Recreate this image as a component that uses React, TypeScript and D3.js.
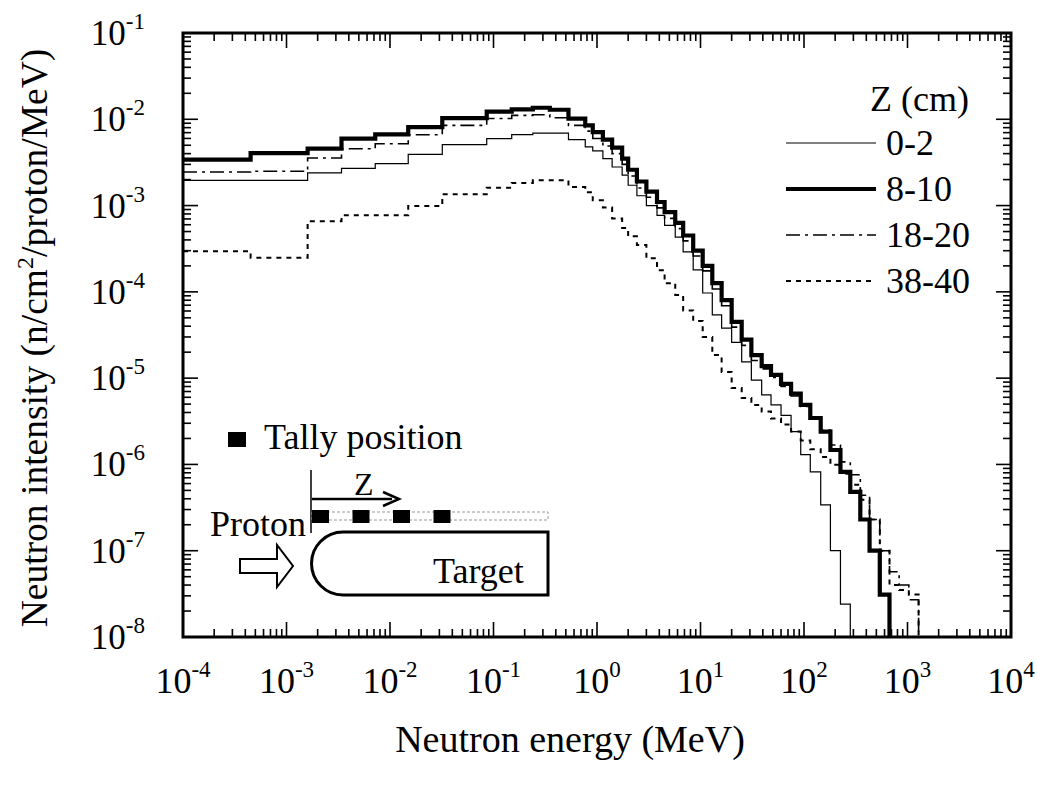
import React from "react";
import * as d3 from "d3";

// Energy bin edges (MeV) shared by all tallies
const binEdges = [
  1e-4, 4.5e-4, 1.6e-3, 3.4e-3, 7.2e-3, 1.5e-2, 3.2e-2, 8.6e-2, 0.15, 0.24, 0.35, 0.53,
  0.77, 0.91, 1.14, 1.4, 1.75, 2.0, 2.43, 3.0, 3.8, 4.5, 5.7, 6.8, 8.5, 10.5, 13, 16, 20,
  25, 31, 39, 48, 60, 75, 93, 115, 145, 180, 225, 280, 350, 430, 540, 670, 830, 1030, 1280,
];

// Neutron intensity per bin (n/cm2/proton/MeV) for each tally depth
const z0to2 = [
  1.96e-3, 1.96e-3, 2.39e-3, 2.7e-3, 3.06e-3, 3.93e-3, 5.08e-3, 5.96e-3, 6.63e-3, 6.92e-3, 6.9e-3, 5.81e-3,
  4.8e-3, 4.3e-3, 3.5e-3, 2.8e-3, 2.25e-3, 1.72e-3, 1.3e-3, 1.0e-3, 7.7e-4, 5.9e-4, 4.3e-4, 2.9e-4,
  1.8e-4, 9.7e-5, 5.4e-5, 3.8e-5, 2.6e-5, 1.54e-5, 9.5e-6, 6.4e-6, 4.9e-6, 3.7e-6, 2.4e-6, 1.3e-6,
  8.2e-7, 3.4e-7, 1.0e-7, 2.4e-8,
];
const z8to10 = [
  3.4e-3, 4.06e-3, 4.57e-3, 5.96e-3, 6.68e-3, 8.1e-3, 1.03e-2, 1.23e-2, 1.3e-2, 1.36e-2, 1.29e-2, 1.02e-2,
  8.5e-3, 7.1e-3, 5.8e-3, 4.7e-3, 3.5e-3, 2.6e-3, 1.9e-3, 1.45e-3, 1.1e-3, 8.4e-4, 6.3e-4, 4.5e-4,
  3.0e-4, 2.0e-4, 1.26e-4, 8.0e-5, 4.5e-5, 2.8e-5, 1.85e-5, 1.38e-5, 1.09e-5, 8.6e-6, 6.6e-6, 4.9e-6,
  3.45e-6, 2.4e-6, 1.47e-6, 8.2e-7, 4.8e-7, 2.3e-7, 1.0e-7, 3.1e-8,
];
const z18to20 = [
  2.45e-3, 2.5e-3, 3.56e-3, 4.56e-3, 5.2e-3, 6.63e-3, 8.5e-3, 1.02e-2, 1.11e-2, 1.13e-2, 1.04e-2, 8.5e-3,
  7.3e-3, 6.0e-3, 4.9e-3, 4.0e-3, 3.0e-3, 2.2e-3, 1.6e-3, 1.25e-3, 9.4e-4, 7.1e-4, 5.4e-4, 3.9e-4,
  2.6e-4, 1.75e-4, 1.08e-4, 6.9e-5, 3.9e-5, 2.4e-5, 1.6e-5, 1.28e-5, 1.02e-5, 8.0e-6, 6.2e-6, 4.7e-6,
  3.5e-6, 2.5e-6, 1.68e-6, 1.07e-6, 7.6e-7, 4.4e-7, 2.3e-7, 1.0e-7, 5.7e-8, 4.0e-8, 2.7e-8,
];
const z38to40 = [
  2.96e-4, 2.48e-4, 6.58e-4, 7.72e-4, 7.7e-4, 9.9e-4, 1.35e-3, 1.61e-3, 1.83e-3, 1.96e-3, 1.96e-3, 1.64e-3,
  1.43e-3, 1.15e-3, 9.5e-4, 7.1e-4, 5.5e-4, 4.4e-4, 3.5e-4, 2.45e-4, 1.78e-4, 1.26e-4, 9.2e-5, 6.1e-5,
  4.6e-5, 3.0e-5, 1.85e-5, 1.18e-5, 7.7e-6, 5.9e-6, 4.9e-6, 4.1e-6, 3.4e-6, 2.9e-6, 2.4e-6, 1.9e-6,
  1.5e-6, 1.22e-6, 9.9e-7, 7.8e-7, 5.8e-7, 3.9e-7, 2.3e-7, 1.0e-7, 4.0e-8, 3.5e-8, 3.1e-8,
];

const seriesLabels = ["0-2", "8-10", "18-20", "38-40"];
const xTickExponents = [-4, -3, -2, -1, 0, 1, 2, 3, 4];
const yTickExponents = [-1, -2, -3, -4, -5, -6, -7, -8];

const W = 1037;
const H = 790;
const FONT = "'Liberation Serif', 'Times New Roman', serif";

const styles = [
  { width: 1.2, dash: "" },
  { width: 4.2, dash: "" },
  { width: 1.6, dash: "14,5,3,5" },
  { width: 2, dash: "5,5" },
];

export default function App() {
  const left = 183, right = 1011, top = 33, bottom = 637;
  const x = d3.scaleLog().domain([1e-4, 1e4]).range([left, right]);
  const y = d3.scaleLog().domain([1e-8, 1e-1]).range([bottom, top]);

  const line = d3
    .line<[number, number]>()
    .x((d) => x(d[0]))
    .y((d) => d[1])
    .curve(d3.curveStepAfter);

  const histPath = (vals: number[]) => {
    const pts: [number, number][] = vals.map((v, i) => [binEdges[i], y(v)]);
    const end = binEdges[vals.length];
    pts.push([end, y(vals[vals.length - 1])]);
    pts.push([end, bottom + 10]);
    return line(pts) || "";
  };

  const allSeries = [z0to2, z8to10, z18to20, z38to40];

  const xTicks = x.ticks();
  const yTicks = y.ticks();
  const isMajor = (v: number) => Math.abs(Math.log10(v) - Math.round(Math.log10(v))) < 1e-6;

  const majorLen = 15, minorLen = 8;

  return (
    <svg
      width={W}
      height={H}
      style={{ position: "absolute", left: 0, top: 0, background: "#fff" }}
      fontFamily={FONT}
    >
      <defs>
        <clipPath id="plotClip">
          <rect x={left} y={top} width={right - left} height={bottom - top} />
        </clipPath>
      </defs>

      {/* histograms */}
      <g clipPath="url(#plotClip)" fill="none" stroke="#000" strokeLinejoin="miter">
        {allSeries.map((vals, i) => (
          <path
            key={i}
            d={histPath(vals)}
            strokeWidth={styles[i].width}
            strokeDasharray={styles[i].dash || undefined}
          />
        ))}
      </g>

      {/* ticks on all four sides, pointing inward */}
      <g stroke="#000" strokeWidth={1.6}>
        {xTicks.map((t, i) => {
          const len = isMajor(t) ? majorLen : minorLen;
          const xx = x(t);
          return (
            <g key={"xt" + i}>
              <line x1={xx} x2={xx} y1={bottom} y2={bottom - len} />
              <line x1={xx} x2={xx} y1={top} y2={top + len} />
            </g>
          );
        })}
        {yTicks.map((t, i) => {
          const len = isMajor(t) ? majorLen : minorLen;
          const yy = y(t);
          return (
            <g key={"yt" + i}>
              <line x1={left} x2={left + len} y1={yy} y2={yy} />
              <line x1={right} x2={right - len} y1={yy} y2={yy} />
            </g>
          );
        })}
      </g>

      {/* frame */}
      <rect
        x={left}
        y={top}
        width={right - left}
        height={bottom - top}
        fill="none"
        stroke="#000"
        strokeWidth={3}
      />

      {/* x tick labels */}
      {xTickExponents.map((e) => (
        <text key={"xl" + e} x={x(Math.pow(10, e))} y={693} fontSize={36} textAnchor="middle">
          10
          <tspan fontSize={23} dy={-16}>
            {e}
          </tspan>
        </text>
      ))}

      {/* y tick labels */}
      {yTickExponents.map((e) => (
        <text key={"yl" + e} x={145} y={y(Math.pow(10, e)) + 12} fontSize={35} textAnchor="end">
          10
          <tspan fontSize={23} dy={-16}>
            {e}
          </tspan>
        </text>
      ))}

      {/* axis titles */}
      <text x={570} y={752} fontSize={38} textAnchor="middle">
        Neutron energy (MeV)
      </text>
      <text transform="translate(47,338) rotate(-90)" fontSize={37.5} textAnchor="middle">
        Neutron intensity (n/cm
        <tspan fontSize={24} dy={-14}>2</tspan>
        <tspan dy={14}>/proton/MeV)</tspan>
      </text>

      {/* legend */}
      <text x={870} y={111} fontSize={36}>
        Z (cm)
      </text>
      {seriesLabels.map((lab, i) => {
        const ly = 143 + i * 46;
        return (
          <g key={"lg" + i}>
            <line
              x1={786}
              x2={876}
              y1={ly}
              y2={ly}
              stroke="#000"
              strokeWidth={styles[i].width}
              strokeDasharray={styles[i].dash || undefined}
            />
            <text x={886} y={ly + 12} fontSize={36}>
              {lab}
            </text>
          </g>
        );
      })}

      {/* target sketch */}
      <g>
        <rect x={228} y={432} width={18} height={15} fill="#000" />
        <text x={264} y={449} fontSize={36}>
          Tally position
        </text>
        <line x1={311} x2={311} y1={470} y2={533} stroke="#000" strokeWidth={1.5} />
        <line x1={312} x2={392} y1={499} y2={499} stroke="#000" strokeWidth={2.5} />
        <path d="M383,492 L399,499 L383,506" fill="none" stroke="#000" strokeWidth={2.5} />
        <text x={354} y={495} fontSize={32}>
          Z
        </text>
        <rect x={312} y={512} width={236} height={8} fill="none" stroke="#999" strokeWidth={1} strokeDasharray="3,2" />
        {[0, 1, 2, 3].map((k) => (
          <rect key={"tp" + k} x={312 + k * 40.5} y={510} width={17} height={13} fill="#000" />
        ))}
        <path
          d="M548,532 H343 A31.5,31.5 0 0 0 343,595 H548 Z"
          fill="none"
          stroke="#000"
          strokeWidth={3}
        />
        <text x={210} y={536} fontSize={36}>
          Proton
        </text>
        <text x={433} y={583} fontSize={36}>
          Target
        </text>
        <path
          d="M240,559 H277 V545 L293,566 L277,587 V573 H240 Z"
          fill="#fff"
          stroke="#000"
          strokeWidth={2}
        />
      </g>
    </svg>
  );
}
